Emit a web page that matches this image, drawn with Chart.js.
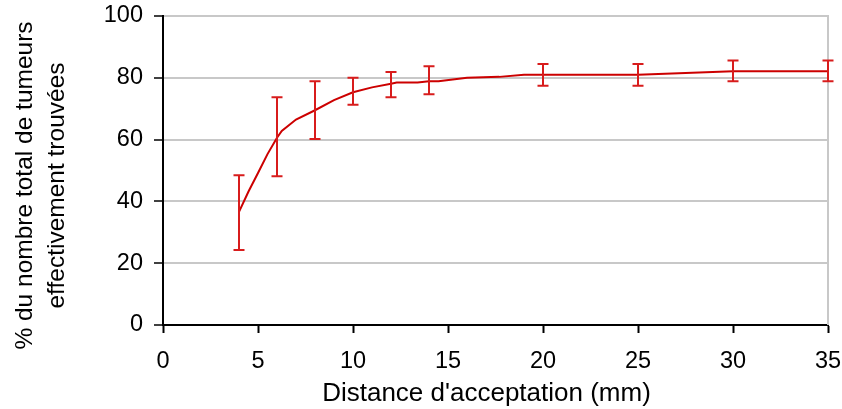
<!DOCTYPE html>
<html><head><meta charset="utf-8">
<script src="https://cdn.jsdelivr.net/npm/chart.js@4.4.1/dist/chart.umd.min.js"></script>
<style>html,body{margin:0;padding:0;background:#fff}#wrap{width:842px;height:409px}</style>
</head><body><div id="wrap"><canvas id="c"></canvas></div>
<script>
// Smooth curve (distance in mm, % found)
const curveX = [4, 4.5, 5, 5.5, 6, 6.25, 7, 8, 9, 10, 11, 12, 12.3, 13.4, 14, 14.5, 16, 17.7, 19, 20, 25, 30, 35];
const curveY = [36.6, 43.2, 49.2, 55.3, 60.6, 62.8, 66.5, 69.5, 72.8, 75.3, 76.9, 78.1, 78.5, 78.5, 78.9, 78.9, 80, 80.3, 81, 81, 81, 82.1, 82.1];
// Error bars
const errX = [4, 6, 8, 10, 12, 14, 20, 25, 30, 35];
const errLow = [24.3, 48.1, 60.2, 71.3, 73.7, 74.7, 77.4, 77.4, 78.9, 78.9];
const errHigh = [48.5, 73.7, 78.9, 80.0, 81.9, 83.7, 84.5, 84.5, 85.6, 85.6];
const xTitle = "Distance d'acceptation (mm)";
const yTitle = ['% du nombre total de tumeurs', 'effectivement trouvées'];

const FONT = "'Liberation Sans', Arial, sans-serif";

const errorBarPlugin = {
  id: 'errorBars',
  afterDatasetsDraw(chart) {
    const {ctx, scales: {x, y}} = chart;
    ctx.save();
    ctx.strokeStyle = '#d81c1c';
    ctx.lineWidth = 2;
    const cap = 5.5;
    for (let i = 0; i < errX.length; i++) {
      const px = x.getPixelForValue(errX[i]);
      const py1 = y.getPixelForValue(errLow[i]);
      const py2 = y.getPixelForValue(errHigh[i]);
      ctx.beginPath();
      ctx.moveTo(px, py1); ctx.lineTo(px, py2);
      ctx.moveTo(px - cap, py1); ctx.lineTo(px + cap, py1);
      ctx.moveTo(px - cap, py2); ctx.lineTo(px + cap, py2);
      ctx.stroke();
    }
    ctx.restore();
  }
};

const rightBorderPlugin = {
  id: 'rightBorder',
  beforeDatasetsDraw(chart) {
    const {ctx, chartArea} = chart;
    ctx.save();
    ctx.strokeStyle = '#c8c8c8';
    ctx.lineWidth = 2;
    ctx.beginPath();
    ctx.moveTo(chartArea.right, chartArea.top - 1);
    ctx.lineTo(chartArea.right, chartArea.bottom);
    ctx.stroke();
    ctx.restore();
  }
};

// Shift axis titles slightly (style only) to match the reference placement
const titleShiftPlugin = {
  id: 'titleShift',
  afterLayout(chart) {
    const shifts = {x: [-9, 0], y: [0, 15]};
    for (const id of Object.keys(shifts)) {
      const s = chart.scales[id];
      if (!s || s._shiftPatched) continue;
      const orig = s.drawTitle.bind(s);
      const [dx, dy] = shifts[id];
      s.drawTitle = function () {
        const ctx = this.ctx;
        ctx.save();
        ctx.translate(dx, dy);
        orig();
        ctx.restore();
      };
      s._shiftPatched = true;
    }
  }
};

new Chart(document.getElementById('c'), {
  type: 'scatter',
  data: {
    datasets: [{
      data: curveX.map((v, i) => ({x: v, y: curveY[i]})),
      showLine: true,
      borderColor: '#cc0000',
      borderWidth: 2,
      pointRadius: 0,
      tension: 0,
      fill: false
    }]
  },
  options: {
    responsive: true,
    maintainAspectRatio: false,
    animation: false,
    layout: {padding: {top: 16, right: 14, left: 0, bottom: 0}},
    plugins: {legend: {display: false}, tooltip: {enabled: false}},
    scales: {
      x: {
        type: 'linear', min: 0, max: 35,
        ticks: {stepSize: 5, color: '#000', font: {family: FONT, size: 23.5}, padding: 14, maxRotation: 0},
        grid: {drawOnChartArea: false, drawTicks: true, tickLength: 8, tickColor: '#000', tickWidth: 2},
        border: {color: '#000', width: 2},
        title: {display: true, text: xTitle, color: '#000', font: {family: FONT, size: 26, lineHeight: 1.2}, padding: {top: 0, bottom: 0}},
        afterFit(s) { s.height = 84; s.paddingLeft = 0; s.paddingRight = 0; }
      },
      y: {
        type: 'linear', min: 0, max: 100,
        ticks: {stepSize: 20, color: '#000', font: {family: FONT, size: 23.5}, padding: 11},
        grid: {color: '#c8c8c8', lineWidth: 2, drawTicks: true, tickLength: 9, tickColor: '#000', tickWidth: 1.5},
        border: {color: '#000', width: 2},
        title: {display: true, text: yTitle, color: '#000', font: {family: FONT, size: 24.5, lineHeight: 1.3}, padding: {top: 9, bottom: 0}},
        afterFit(s) { s.width = 163; s.paddingTop = 0; s.paddingBottom = 0; }
      }
    }
  },
  plugins: [rightBorderPlugin, errorBarPlugin, titleShiftPlugin]
});
</script>
</body></html>
